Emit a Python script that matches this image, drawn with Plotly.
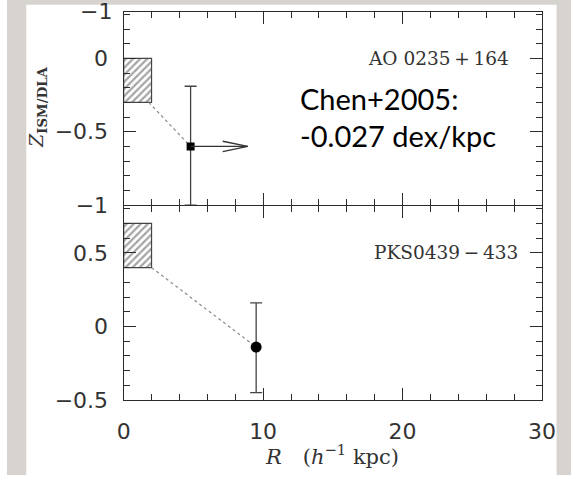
import plotly.graph_objects as go

W, H = 585, 488

# ---- data ----
r_range = [0, 30]
top_z_range = [-1.0, 0.318]
bot_z_range = [-0.5, 0.821]

# ISM metallicity range of the host galaxy (hatched boxes)
ism_r = [0.0, 2.0]
ao_ism_z = [-0.3, 0.0]
pks_ism_z = [0.4, 0.7]

# DLA measurement along the QSO sightline
ao_r, ao_z = 4.8, -0.6
ao_err_plus, ao_err_minus = 0.41, 0.40
ao_limit_to = 8.9          # lower limit on R (arrow)
pks_r, pks_z = 9.5, -0.14
pks_err_plus, pks_err_minus = 0.30, 0.31

# gradient guide lines (box edge -> DLA point)
ao_line_r = [1.8, ao_r]
ao_line_z = [-0.3, ao_z]
pks_line_r = [2.0, pks_r]
pks_line_z = [0.4, pks_z]

labels = ["AO 0235\u2009+\u2009164", "PKS0439\u2009\u2212\u2009433"]
note_lines = ["Chen+2005:", "-0.027 dex/kpc"]

# ---- layout geometry (pixels) ----
px_left, px_right = 121, 555
px_top, px_mid, px_bot = 12, 211, 411
xd = [px_left / W, px_right / W]
# the two panels sit back to back; a sub-pixel gap keeps them from overlapping
top_dom = [1 - (px_mid - 0.3) / H, 1 - px_top / H]
bot_dom = [1 - px_bot / H, 1 - (px_mid + 0.3) / H]

INK = "#2b2b2b"
GREY_BG = "#d7d4d0"
tick_font = dict(family="DejaVu Sans", size=22, color="#333333")
label_font = dict(family="DejaVu Serif", size=18.5, color="#333333")

fig = go.Figure()


def hatched_box(z, xa, ya):
    r0, r1 = ism_r
    return go.Scatter(
        x=[r0, r1, r1, r0, r0], y=[z[0], z[0], z[1], z[1], z[0]],
        mode="lines", fill="toself", fillcolor="white",
        fillpattern=dict(shape="/", fgcolor="#4a4a4a", bgcolor="white",
                         size=5, solidity=0.45),
        line=dict(color="#444444", width=1.2),
        xaxis=xa, yaxis=ya, showlegend=False, hoverinfo="skip")


fig.add_trace(hatched_box(ao_ism_z, "x", "y"))
fig.add_trace(hatched_box(pks_ism_z, "x2", "y2"))

# dotted guide lines
for rr, zz, xa, ya in [(ao_line_r, ao_line_z, "x", "y"),
                       (pks_line_r, pks_line_z, "x2", "y2")]:
    fig.add_trace(go.Scatter(x=rr, y=zz, mode="lines", xaxis=xa, yaxis=ya,
                             line=dict(color="#8a8a8a", width=1.2, dash="dot"),
                             showlegend=False, hoverinfo="skip"))

# AO 0235+164 point with lower-limit arrow
fig.add_trace(go.Scatter(
    x=[ao_r], y=[ao_z], mode="markers", xaxis="x", yaxis="y",
    marker=dict(symbol="square", size=8, color="black"),
    error_y=dict(type="data", symmetric=False, array=[ao_err_plus],
                 arrayminus=[ao_err_minus], color="#444444", thickness=1.3, width=6),
    showlegend=False))
fig.add_trace(go.Scatter(x=[ao_r, ao_limit_to], y=[ao_z, ao_z], mode="lines",
                         xaxis="x", yaxis="y", line=dict(color="#333333", width=1.3),
                         showlegend=False, hoverinfo="skip"))
head_dr = 1.8
head_dz = 0.035
fig.add_trace(go.Scatter(
    x=[ao_limit_to - head_dr, ao_limit_to, ao_limit_to - head_dr],
    y=[ao_z + head_dz, ao_z, ao_z - head_dz], mode="lines",
    xaxis="x", yaxis="y", line=dict(color="#333333", width=1.3),
    showlegend=False, hoverinfo="skip"))

# PKS0439-433 point
fig.add_trace(go.Scatter(
    x=[pks_r], y=[pks_z], mode="markers", xaxis="x2", yaxis="y2",
    marker=dict(symbol="circle", size=11, color="black"),
    error_y=dict(type="data", symmetric=False, array=[pks_err_plus],
                 arrayminus=[pks_err_minus], color="#444444", thickness=1.3, width=6),
    showlegend=False))

axis_common = dict(showline=True, linecolor=INK, linewidth=1.3, mirror="ticks",
                   ticks="inside", tickcolor=INK, tickwidth=1.2, ticklen=12,
                   showgrid=False, zeroline=False)
x_minor = dict(dtick=2, ticks="inside", ticklen=6)
y_minor = dict(dtick=0.1, ticks="inside", ticklen=6)

fig.update_layout(
    width=W, height=H, margin=dict(l=0, r=0, t=0, b=0),
    paper_bgcolor="white", plot_bgcolor="rgba(0,0,0,0)", showlegend=False,
    xaxis=dict(domain=xd, anchor="y", range=r_range, dtick=10, showticklabels=False,
               minor=x_minor, **axis_common),
    yaxis=dict(domain=top_dom, anchor="x", range=top_z_range, dtick=0.5,
               ticklabelstandoff=10, minor=y_minor, tickfont=tick_font, **axis_common),
    xaxis2=dict(domain=xd, anchor="y2", range=r_range, dtick=10,
                ticklabelstandoff=11, minor=x_minor, tickfont=tick_font, **axis_common),
    yaxis2=dict(domain=bot_dom, anchor="x2", range=bot_z_range, dtick=0.5,
                ticklabelstandoff=10, minor=y_minor, tickfont=tick_font, **axis_common),
)

# grey surround of the white figure page
for x0, x1, y0, y1 in [(0, 20, 0, H), (570, W, 0, H), (0, W, 0, 5)]:
    fig.add_shape(type="rect", xref="paper", yref="paper",
                  x0=x0 / W, x1=x1 / W, y0=1 - y1 / H, y1=1 - y0 / H,
                  fillcolor=GREY_BG, line=dict(width=0), layer="above")

ann = []
# label from the panel above, partly visible at the top edge
ann.append(dict(x=px_left / W, y=1 - px_top / H, xref="paper", yref="paper",
                xanchor="right", yanchor="middle", xshift=-10, text="\u22121",
                showarrow=False, font=tick_font))
ann.append(dict(x=(523 - px_left) / (px_right - px_left) * 30, y=0.0, xref="x", yref="y",
                xanchor="right", yanchor="middle", text=labels[0], showarrow=False,
                font=label_font))
ann.append(dict(x=(532 - px_left) / (px_right - px_left) * 30, y=0.5, xref="x2", yref="y2",
                xanchor="right", yanchor="middle", text=labels[1], showarrow=False,
                font=label_font))
for txt, py in zip(note_lines, [101, 139]):
    ann.append(dict(x=302 / W, y=1 - py / H, xref="paper", yref="paper", xanchor="left",
                    yanchor="middle", text=txt, showarrow=False,
                    font=dict(family="Lato", size=29, color="black")))
# axis titles
ann.append(dict(x=337 / W, y=1 - 467 / H, xref="paper", yref="paper", xanchor="center",
                yanchor="middle", showarrow=False,
                text="<i>R</i>\u2003(<i>h</i><sup>\u22121</sup> kpc)",
                font=dict(family="DejaVu Serif", size=21, color="#333333")))
ann.append(dict(x=31 / W, y=1 - 110 / H, xref="paper", yref="paper", xanchor="center",
                yanchor="middle", showarrow=False, textangle=-90,
                text="<i>Z</i><sub><b>ISM/DLA</b></sub>",
                font=dict(family="DejaVu Serif", size=19, color="#333333")))
fig.update_layout(annotations=ann)

fig.write_html("out.html")
